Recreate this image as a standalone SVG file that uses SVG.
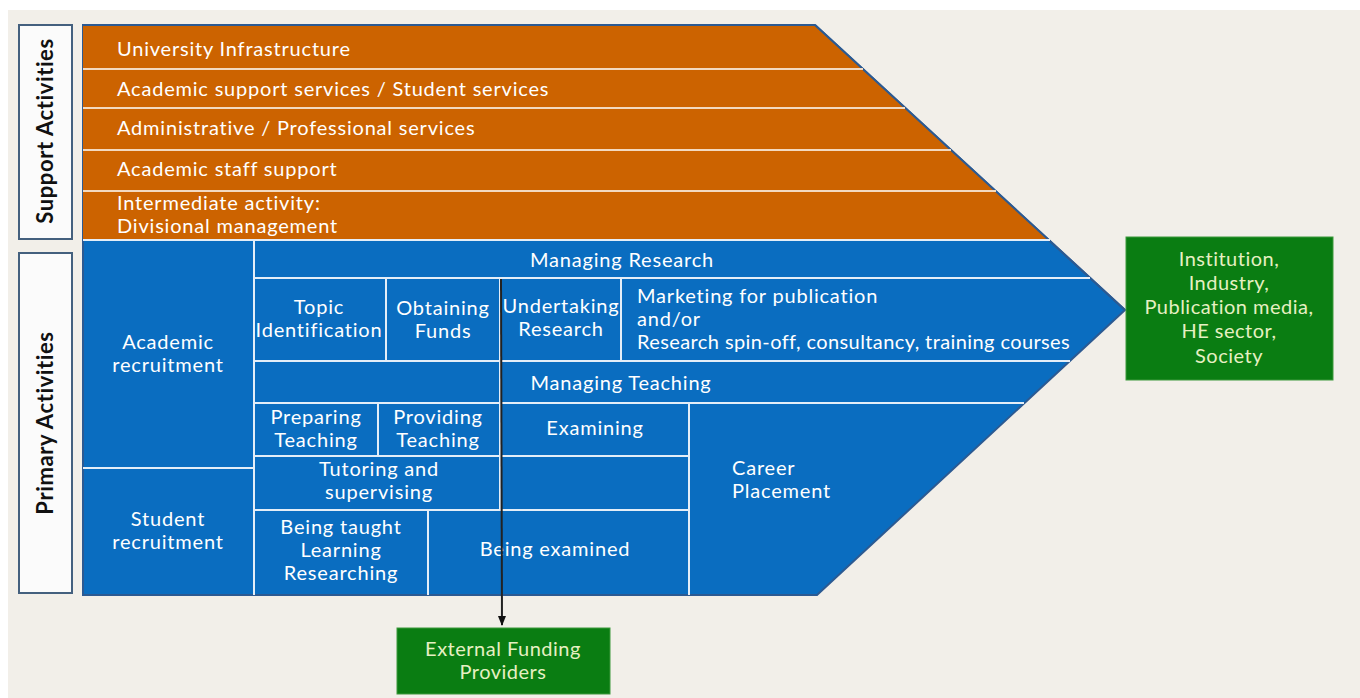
<svg xmlns="http://www.w3.org/2000/svg" width="1360" height="698" viewBox="0 0 1360 698">
<defs>
<marker id="arr" markerWidth="10" markerHeight="10" refX="9" refY="5" orient="auto" markerUnits="userSpaceOnUse" viewBox="0 0 10 10">
<path d="M0,1 L10,5 L0,9 Z" fill="#111"/>
</marker>
<style>
.t{font-family:Lato,"Open Sans","Liberation Sans",sans-serif;font-size:20px;letter-spacing:0.8px;fill:#ffffff}
.c{text-anchor:middle}
.g{fill:#e6f0c2;letter-spacing:0.5px}
.lbl{font-family:Lato,"Open Sans","Liberation Sans",sans-serif;font-size:22px;letter-spacing:0.6px;font-weight:bold;fill:#111;text-anchor:middle}
.sep{stroke:#e4eef8;stroke-width:2;fill:none}
.osep{stroke:#f3d9bf;stroke-width:2;fill:none}
.lab{fill:#fbfbfb;stroke:#44607e;stroke-width:2}
.gbox{fill:#0a7d12;stroke:#3c9a3c;stroke-width:1}
</style>
</defs>
<rect x="0" y="0" width="1360" height="698" fill="#ffffff"/>
<rect x="8" y="10" width="1352" height="688" fill="#f2efe9"/>

<g id="shape">
<polygon points="83,25 815,25 1125,310 817,595 83,595" fill="#0a6dc0" stroke="#2c5a92" stroke-width="2"/>
<polygon points="83,26 815,26 1048,239 83,239" fill="#cc6300"/>
<line x1="83" y1="25" x2="815" y2="25" stroke="#2c5a92" stroke-width="2"/>
<line x1="815" y1="25" x2="1125" y2="310" stroke="#2c5a92" stroke-width="2"/>
</g>

<g id="separators">
<line class="osep" x1="83" y1="69" x2="863" y2="69"/>
<line class="osep" x1="83" y1="108" x2="905" y2="108"/>
<line class="osep" x1="83" y1="150" x2="951" y2="150"/>
<line class="osep" x1="83" y1="191" x2="996" y2="191"/>
<line class="sep" x1="83" y1="240" x2="1050" y2="240"/>
<line class="sep" x1="254" y1="241" x2="254" y2="595"/>
<line class="sep" x1="254" y1="278" x2="1090" y2="278"/>
<line class="sep" x1="386" y1="278" x2="386" y2="361"/>
<line class="sep" x1="500" y1="278" x2="500" y2="510"/>
<line class="sep" x1="621" y1="278" x2="621" y2="361"/>
<line class="sep" x1="254" y1="361" x2="1070" y2="361"/>
<line class="sep" x1="254" y1="403" x2="1024" y2="403"/>
<line class="sep" x1="378" y1="403" x2="378" y2="457"/>
<line class="sep" x1="689" y1="403" x2="689" y2="595"/>
<line class="sep" x1="254" y1="456" x2="689" y2="456"/>
<line class="sep" x1="254" y1="510" x2="689" y2="510"/>
<line class="sep" x1="428" y1="510" x2="428" y2="595"/>
<line class="sep" x1="83" y1="468" x2="254" y2="468"/>
</g>

<g id="support-label">
<rect class="lab" x="19" y="25" width="53" height="214"/>
<text class="lbl" transform="translate(53,131) rotate(-90)">Support Activities</text>
</g>
<g id="primary-label">
<rect class="lab" x="19" y="253" width="53" height="340"/>
<text class="lbl" transform="translate(53,423) rotate(-90)">Primary Activities</text>
</g>

<g id="university-infrastructure"><text class="t" x="117" y="56">University Infrastructure</text></g>
<g id="academic-support"><text class="t" x="117" y="96">Academic support services / Student services</text></g>
<g id="administrative"><text class="t" x="117" y="135">Administrative / Professional services</text></g>
<g id="academic-staff-support"><text class="t" x="117" y="176">Academic staff support</text></g>
<g id="intermediate"><text class="t" x="117" y="210">Intermediate activity:</text><text class="t" x="117" y="233">Divisional management</text></g>

<g id="managing-research"><text class="t c" x="622" y="267">Managing Research</text></g>
<g id="topic-identification"><text class="t c" x="319" y="314">Topic</text><text class="t c" x="319" y="337">Identification</text></g>
<g id="obtaining-funds"><text class="t c" x="443" y="315">Obtaining</text><text class="t c" x="443" y="338">Funds</text></g>
<g id="undertaking-research"><text class="t c" x="561" y="313">Undertaking</text><text class="t c" x="561" y="336">Research</text></g>
<g id="marketing"><text class="t" x="637" y="303">Marketing for publication</text><text class="t" x="637" y="326">and/or</text><text class="t" x="637" y="349" style="letter-spacing:0.4px">Research spin-off, consultancy, training courses</text></g>
<g id="academic-recruitment"><text class="t c" x="168" y="349">Academic</text><text class="t c" x="168" y="372">recruitment</text></g>
<g id="managing-teaching"><text class="t c" x="621" y="390">Managing Teaching</text></g>
<g id="preparing-teaching"><text class="t c" x="316" y="424">Preparing</text><text class="t c" x="316" y="447">Teaching</text></g>
<g id="providing-teaching"><text class="t c" x="438" y="424">Providing</text><text class="t c" x="438" y="447">Teaching</text></g>
<g id="examining"><text class="t c" x="595" y="435">Examining</text></g>
<g id="tutoring"><text class="t c" x="379" y="476">Tutoring and</text><text class="t c" x="379" y="499">supervising</text></g>
<g id="career-placement"><text class="t" x="732" y="475">Career</text><text class="t" x="732" y="498">Placement</text></g>
<g id="student-recruitment"><text class="t c" x="168" y="526">Student</text><text class="t c" x="168" y="549">recruitment</text></g>
<g id="being-taught"><text class="t c" x="341" y="534">Being taught</text><text class="t c" x="341" y="557">Learning</text><text class="t c" x="341" y="580">Researching</text></g>
<g id="being-examined"><text class="t c" x="555" y="556">Being examined</text></g>

<g id="stakeholders">
<rect class="gbox" x="1126" y="237" width="207" height="143"/>
<text class="t c g" x="1229" y="266">Institution,</text>
<text class="t c g" x="1229" y="290">Industry,</text>
<text class="t c g" x="1229" y="314">Publication media,</text>
<text class="t c g" x="1229" y="338">HE sector,</text>
<text class="t c g" x="1229" y="363">Society</text>
</g>
<g id="external-funding">
<rect class="gbox" x="397" y="628" width="213" height="66"/>
<text class="t c g" x="503" y="656">External Funding</text>
<text class="t c g" x="503" y="679">Providers</text>
</g>

<g id="connectors">
<line x1="501" y1="279" x2="502" y2="625" stroke="#222" stroke-width="2" marker-end="url(#arr)"/>
</g>
</svg>
